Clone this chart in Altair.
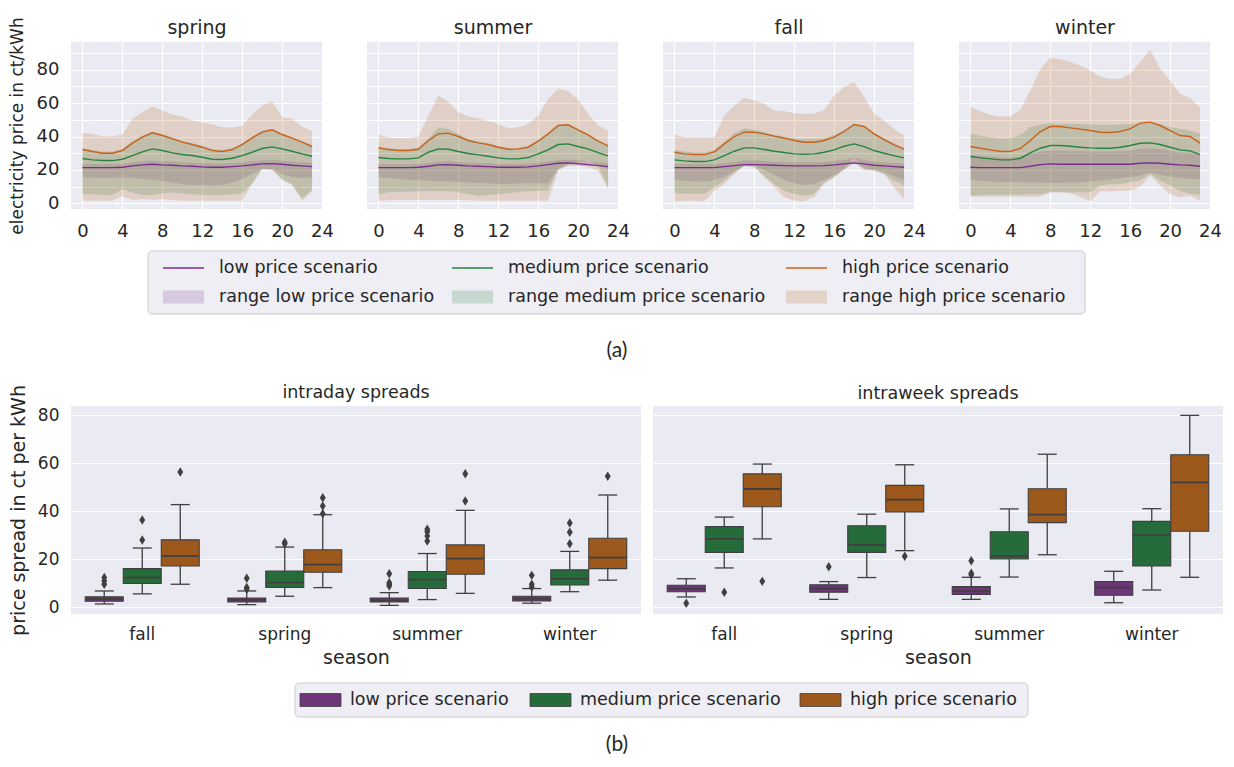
import altair as alt
import pandas as pd

# ----------------------------------------------------------------- data
HOURS = list(range(24))
TOP_SEASONS = ["spring", "summer", "fall", "winter"]
SCENARIOS = ["low price scenario", "medium price scenario", "high price scenario"]
RANGE_LABELS = ["range low price scenario", "range medium price scenario", "range high price scenario"]
HOUR_TICKS = [0, 4, 8, 12, 16, 20, 24]
PRICE_GRID = [0, 10, 20, 30, 40, 50, 60, 70, 80, 90]

SPRING_LOW = [21.4, 21.4, 21.4, 21.4, 21.6, 22.4, 23.0, 23.4, 23.0, 22.8, 22.4, 22.2, 21.8, 21.6, 21.6, 22.0, 22.4, 23.0, 23.6, 23.8, 23.4, 22.8, 22.4, 22.0]
SPRING_LOW_MIN = [15.6, 15.4, 15.2, 15.2, 15.6, 15.0, 14.5, 14.0, 13.4, 12.5, 11.6, 11.0, 10.8, 10.6, 11.0, 12.5, 14.5, 17.5, 20.6, 20.6, 17.5, 15.6, 15.2, 15.6]
SPRING_LOW_MAX = [23.5, 23.5, 23.5, 23.5, 23.7, 24.5, 25.2, 25.6, 25.2, 25.0, 24.6, 24.4, 24.0, 23.8, 23.8, 24.2, 24.6, 25.2, 25.8, 26.0, 25.6, 25.0, 24.6, 24.2]
SPRING_MED = [26.8, 26.0, 25.6, 25.6, 26.4, 28.6, 30.8, 32.6, 31.6, 30.2, 29.2, 28.6, 27.6, 26.4, 26.2, 27.0, 28.6, 30.6, 32.8, 33.8, 32.6, 31.2, 29.6, 28.2]
SPRING_MED_MIN = [5.6, 5.4, 5.0, 5.0, 8.5, 6.5, 5.0, 5.0, 6.0, 6.5, 6.0, 5.5, 5.0, 5.0, 5.0, 5.5, 6.0, 12.0, 20.5, 20.5, 14.0, 11.0, 3.0, 8.0]
SPRING_MED_MAX = [33.0, 32.0, 31.0, 31.0, 32.5, 37.0, 40.5, 43.0, 41.5, 39.5, 37.5, 36.0, 34.5, 32.5, 32.0, 33.0, 36.0, 40.0, 43.5, 44.5, 42.0, 39.5, 37.0, 35.0]
SPRING_HIGH = [32.2, 31.0, 30.0, 30.0, 31.6, 36.0, 39.6, 42.2, 40.6, 38.6, 36.6, 35.2, 33.6, 31.6, 31.0, 32.2, 35.2, 39.2, 42.6, 44.0, 41.2, 39.0, 36.6, 34.0]
SPRING_HIGH_MIN = [1.6, 1.6, 1.6, 1.6, 4.2, 2.0, 2.4, 2.0, 2.4, 2.0, 1.6, 1.6, 1.6, 1.6, 1.6, 1.6, 1.6, 11.6, 20.6, 19.6, 14.6, 11.6, 1.6, 7.2]
SPRING_HIGH_MAX = [42.2, 41.6, 40.2, 40.0, 41.2, 50.6, 54.6, 58.0, 55.6, 53.2, 52.0, 49.6, 48.4, 47.2, 45.6, 45.2, 46.6, 53.2, 58.6, 61.2, 51.6, 50.6, 46.0, 43.2]

SUMMER_LOW = [21.4, 21.4, 21.4, 21.4, 21.6, 22.2, 23.0, 23.2, 22.8, 22.4, 22.2, 22.0, 21.6, 21.6, 21.6, 21.8, 22.4, 23.2, 24.0, 24.2, 23.8, 23.2, 22.6, 22.0]
SUMMER_LOW_MIN = [15.6, 15.0, 14.5, 14.0, 13.8, 13.5, 13.2, 13.0, 12.8, 12.5, 12.2, 12.0, 11.6, 11.6, 11.8, 12.0, 12.0, 12.0, 20.6, 22.6, 22.6, 22.6, 22.6, 20.6]
SUMMER_LOW_MAX = [23.5, 23.5, 23.5, 23.5, 23.7, 24.3, 25.0, 25.2, 24.8, 24.4, 24.2, 24.0, 23.6, 23.6, 23.6, 23.8, 24.4, 25.2, 26.0, 26.2, 25.8, 25.2, 24.6, 24.0]
SUMMER_MED = [27.4, 26.8, 26.6, 26.6, 27.2, 30.6, 32.6, 32.4, 31.0, 29.8, 29.0, 28.2, 27.2, 26.6, 26.6, 27.4, 29.6, 32.0, 35.2, 35.6, 34.0, 32.6, 30.4, 28.4]
SUMMER_MED_MIN = [5.6, 6.6, 7.0, 7.0, 7.2, 7.2, 7.4, 7.2, 6.6, 5.6, 4.6, 5.0, 5.6, 6.0, 6.6, 7.2, 7.6, 7.6, 20.6, 23.6, 24.6, 25.5, 22.6, 9.6]
SUMMER_MED_MAX = [34.0, 33.0, 32.5, 32.5, 33.5, 39.0, 45.6, 44.5, 41.5, 38.5, 37.0, 36.0, 34.5, 33.0, 33.0, 34.5, 38.0, 42.0, 46.5, 47.5, 44.5, 41.5, 37.5, 35.0]
SUMMER_HIGH = [33.2, 32.2, 31.6, 31.6, 32.4, 37.6, 41.6, 42.0, 40.0, 37.6, 36.2, 35.2, 33.6, 32.4, 32.6, 33.6, 37.2, 41.6, 46.6, 47.0, 44.0, 41.0, 37.2, 34.4]
SUMMER_HIGH_MIN = [1.6, 1.8, 2.0, 2.0, 2.0, 2.0, 2.0, 2.0, 2.0, 1.8, 1.6, 1.6, 1.6, 1.6, 1.6, 1.6, 1.6, 1.6, 19.6, 22.6, 22.6, 21.6, 19.6, 8.6]
SUMMER_HIGH_MAX = [41.0, 39.6, 39.0, 39.0, 40.0, 52.6, 64.6, 60.6, 54.6, 52.0, 51.0, 49.2, 47.6, 44.8, 45.6, 47.6, 52.6, 62.6, 68.6, 67.2, 62.2, 53.6, 46.6, 43.6]

FALL_LOW = [21.4, 21.4, 21.4, 21.4, 21.4, 22.0, 22.6, 23.2, 23.2, 23.0, 22.8, 22.6, 22.4, 22.4, 22.4, 22.6, 23.0, 23.6, 24.2, 23.6, 22.8, 22.4, 22.0, 21.6]
FALL_LOW_MIN = [14.0, 13.5, 13.0, 13.0, 14.0, 16.0, 19.0, 22.0, 22.5, 20.0, 17.0, 14.0, 12.0, 11.0, 11.5, 14.0, 17.0, 20.0, 24.0, 21.0, 20.0, 19.0, 16.0, 14.0]
FALL_LOW_MAX = [23.5, 23.5, 23.5, 23.5, 23.5, 24.1, 24.8, 25.6, 25.8, 25.3, 25.0, 24.8, 24.6, 24.6, 24.6, 24.8, 25.3, 26.0, 27.5, 26.0, 25.0, 24.6, 24.2, 23.8]
FALL_MED = [26.0, 25.4, 25.0, 25.0, 26.0, 28.6, 31.2, 33.2, 33.2, 32.2, 31.2, 30.4, 29.6, 29.4, 29.6, 30.6, 32.0, 34.2, 35.6, 34.0, 31.6, 30.0, 28.6, 27.2]
FALL_MED_MIN = [6.0, 5.8, 5.8, 5.8, 9.6, 13.6, 18.6, 22.6, 21.6, 16.6, 11.6, 7.6, 5.6, 4.6, 5.6, 12.6, 15.6, 20.6, 27.6, 20.6, 19.6, 17.6, 13.6, 10.6]
FALL_MED_MAX = [32.0, 31.0, 30.5, 30.5, 32.0, 37.0, 42.0, 45.0, 44.0, 42.5, 41.0, 40.0, 39.0, 38.5, 38.5, 39.0, 41.0, 44.0, 47.5, 46.0, 42.0, 39.0, 36.0, 33.0]
FALL_HIGH = [30.6, 29.6, 29.2, 29.2, 30.8, 35.6, 40.0, 42.6, 42.6, 41.6, 40.2, 39.0, 37.6, 36.6, 36.6, 37.6, 39.6, 43.0, 47.2, 46.0, 41.6, 38.2, 35.0, 32.4]
FALL_HIGH_MIN = [1.2, 1.6, 1.6, 1.2, 7.6, 11.6, 17.6, 22.6, 21.6, 15.6, 9.6, 3.6, 1.6, 1.2, 3.6, 11.6, 15.6, 20.6, 24.6, 19.6, 19.6, 17.6, 9.6, 2.6]
FALL_HIGH_MAX = [41.2, 39.6, 39.6, 39.6, 39.6, 52.6, 58.6, 63.2, 61.6, 59.6, 55.6, 55.2, 54.0, 53.6, 53.6, 56.0, 64.6, 69.6, 72.6, 63.6, 53.6, 49.6, 44.6, 40.6]

WINTER_LOW = [21.6, 21.4, 21.4, 21.4, 21.4, 21.4, 22.2, 23.2, 23.6, 23.4, 23.4, 23.4, 23.4, 23.4, 23.4, 23.4, 23.4, 24.0, 24.2, 24.0, 23.4, 23.0, 22.8, 22.2]
WINTER_LOW_MIN = [14.0, 13.5, 13.0, 12.8, 12.6, 12.6, 12.5, 12.4, 12.2, 12.2, 12.4, 12.6, 13.0, 13.6, 14.2, 15.0, 15.6, 16.6, 18.6, 17.0, 16.0, 15.2, 14.6, 14.6]
WINTER_LOW_MAX = [29.0, 28.5, 28.0, 27.5, 27.5, 28.0, 29.5, 31.0, 31.6, 31.6, 31.4, 31.2, 31.0, 31.0, 31.0, 31.2, 31.6, 32.5, 33.0, 32.5, 31.5, 30.5, 30.0, 29.0]
WINTER_MED = [28.0, 27.2, 26.6, 26.0, 26.0, 27.0, 30.2, 33.0, 34.6, 34.6, 34.2, 33.6, 33.2, 33.0, 33.0, 33.6, 34.6, 36.0, 36.2, 35.2, 33.6, 32.0, 31.4, 29.2]
WINTER_MED_MIN = [4.6, 5.2, 5.2, 5.2, 5.2, 5.2, 5.6, 5.6, 6.6, 6.6, 6.6, 6.6, 6.6, 10.6, 11.6, 11.6, 12.6, 13.6, 17.6, 13.6, 10.6, 7.6, 5.6, 5.2]
WINTER_MED_MAX = [41.6, 40.5, 39.5, 38.6, 39.0, 41.0, 45.6, 47.2, 48.0, 47.5, 47.5, 47.5, 47.2, 47.0, 47.0, 47.2, 47.5, 48.0, 48.6, 47.5, 45.6, 44.6, 43.6, 41.6]
WINTER_HIGH = [34.0, 33.0, 32.0, 31.0, 31.2, 32.8, 37.6, 43.0, 46.0, 46.0, 45.2, 44.4, 43.6, 42.6, 42.4, 43.0, 44.6, 48.0, 48.6, 46.6, 43.6, 40.6, 40.0, 36.0]
WINTER_HIGH_MIN = [4.0, 4.0, 4.0, 4.0, 4.0, 4.0, 4.0, 4.0, 6.6, 6.6, 6.0, 4.0, 1.2, 7.2, 7.2, 7.6, 7.6, 10.0, 16.6, 10.6, 5.6, 3.6, 4.6, 1.6]
WINTER_HIGH_MAX = [58.0, 55.2, 53.0, 52.0, 52.2, 56.0, 67.6, 80.6, 87.2, 86.2, 84.6, 82.6, 79.6, 76.0, 74.4, 74.6, 77.6, 84.6, 92.0, 80.6, 73.6, 65.6, 63.0, 57.6]

BOX_SEASONS = ["fall", "spring", "summer", "winter"]
BOX_TITLES = ["intraday spreads", "intraweek spreads"]
SUB_LABELS = ["(a)", "(b)"]

# order: fall L/M/H, spring L/M/H, summer L/M/H, winter L/M/H
INTRADAY_Q1 = [2.5, 9.9, 17.2, 2.2, 8.3, 14.6, 2.2, 7.8, 13.8, 2.6, 9.3, 16.1]
INTRADAY_MED = [3.5, 12.4, 21.3, 3.1, 10.3, 17.8, 2.9, 11.5, 20.3, 3.6, 11.8, 20.7]
INTRADAY_Q3 = [4.4, 16.1, 28.1, 3.9, 15.1, 24.0, 3.9, 14.9, 26.0, 4.6, 15.6, 28.8]
INTRADAY_WLO = [1.4, 5.6, 9.6, 1.1, 4.6, 8.2, 0.8, 3.2, 5.8, 1.7, 6.5, 11.3]
INTRADAY_WHI = [6.8, 24.7, 42.8, 6.8, 25.1, 38.6, 6.1, 22.4, 40.4, 7.8, 23.3, 46.8]
INTRADAY_OUT = [[9.6, 11.0, 12.4], [28.0, 36.4], [56.4],
                [7.5, 8.2, 12.1], [26.5, 27.1], [39.0, 42.2, 45.7],
                [8.9, 9.6, 10.2, 14.0], [27.6, 29.7, 31.5, 32.5], [44.3, 55.7],
                [8.5, 9.6, 13.3], [26.5, 31.3, 35.1], [54.6]]

INTRAWEEK_Q1 = [6.5, 22.9, 41.9, 6.3, 22.9, 39.7, 5.4, 20.1, 35.3, 5.0, 17.2, 31.7]
INTRAWEEK_MED = [7.8, 28.5, 49.3, 7.8, 26.0, 44.9, 6.7, 21.3, 38.6, 8.2, 30.1, 52.1]
INTRAWEEK_Q3 = [9.2, 33.6, 55.6, 9.4, 34.0, 50.8, 8.6, 31.5, 49.4, 10.7, 35.8, 63.6]
INTRAWEEK_WLO = [4.3, 16.4, 28.5, 3.3, 12.4, 23.6, 3.3, 12.6, 21.9, 1.9, 7.2, 12.5]
INTRAWEEK_WHI = [11.9, 37.6, 59.7, 10.7, 38.8, 59.4, 12.5, 41.0, 63.8, 15.0, 41.1, 80.0]
INTRAWEEK_OUT = [[1.7], [6.3], [10.8],
                 [16.9], [], [21.3],
                 [13.6, 14.2, 19.4], [], [],
                 [], [], []]

# ----------------------------------------------------------------- styles
FONT = "DejaVu Sans"
TXT = "#262626"
BG = "#EAEAF2"
LINE_COLORS = ["#7a2d8c", "#24843f", "#c8621a"]
BAND_COLORS = ["#762a83", "#1b7837", "#b35806"]
BOX_COLORS = ["#6e3578", "#266c3b", "#9d581c"]
EDGE = "#3f3f3f"
BAND_OPACITY = 0.18
DIAMOND = "M0,-1L0.62,0L0,1L-0.62,0Z"

TOP_W, TOP_H, TOP_GAP = 252, 167, 44
BOT_W, BOT_H, BOT_GAP = 570, 208, 12

# ----------------------------------------------------------------- tables
SERIES = {
    "spring": [(SPRING_LOW, SPRING_LOW_MIN, SPRING_LOW_MAX), (SPRING_MED, SPRING_MED_MIN, SPRING_MED_MAX), (SPRING_HIGH, SPRING_HIGH_MIN, SPRING_HIGH_MAX)],
    "summer": [(SUMMER_LOW, SUMMER_LOW_MIN, SUMMER_LOW_MAX), (SUMMER_MED, SUMMER_MED_MIN, SUMMER_MED_MAX), (SUMMER_HIGH, SUMMER_HIGH_MIN, SUMMER_HIGH_MAX)],
    "fall": [(FALL_LOW, FALL_LOW_MIN, FALL_LOW_MAX), (FALL_MED, FALL_MED_MIN, FALL_MED_MAX), (FALL_HIGH, FALL_HIGH_MIN, FALL_HIGH_MAX)],
    "winter": [(WINTER_LOW, WINTER_LOW_MIN, WINTER_LOW_MAX), (WINTER_MED, WINTER_MED_MIN, WINTER_MED_MAX), (WINTER_HIGH, WINTER_HIGH_MIN, WINTER_HIGH_MAX)],
}

rows = []
for season in TOP_SEASONS:
    for k, (mean, lo, hi) in enumerate(SERIES[season]):
        for h in HOURS:
            rows.append(dict(season=season, scenario=SCENARIOS[k], k=k, hour=h,
                             mean=mean[h], lo=lo[h], hi=hi[h],
                             color=LINE_COLORS[k], band=BAND_COLORS[k]))
top_df = pd.DataFrame(rows)


def box_tables(q1, med, q3, wlo, whi, outs):
    st, ot = [], []
    i = 0
    for s in BOX_SEASONS:
        for k, scen in enumerate(SCENARIOS):
            st.append(dict(season=s, scenario=scen, q1=q1[i], med=med[i], q3=q3[i],
                           wlo=wlo[i], whi=whi[i], fill=BOX_COLORS[k]))
            for v in outs[i]:
                ot.append(dict(season=s, scenario=scen, value=v))
            i += 1
    return pd.DataFrame(st), pd.DataFrame(ot)


intraday_stats, intraday_out = box_tables(INTRADAY_Q1, INTRADAY_MED, INTRADAY_Q3, INTRADAY_WLO, INTRADAY_WHI, INTRADAY_OUT)
intraweek_stats, intraweek_out = box_tables(INTRAWEEK_Q1, INTRAWEEK_MED, INTRAWEEK_Q3, INTRAWEEK_WLO, INTRAWEEK_WHI, INTRAWEEK_OUT)

# ----------------------------------------------------------------- top row


def top_panel(season, first):
    df = top_df[top_df.season == season]
    xs = alt.Scale(domain=[-1.15, 24.1], nice=False, zero=False)
    xa = alt.Axis(values=HOUR_TICKS, title="", labelFontSize=18, labelPadding=13,
                  labelFlush=False, grid=True)
    ys = alt.Scale(domain=[-3.4, 96.6], nice=False, zero=False)
    if first:
        ya = alt.Axis(values=PRICE_GRID, labelExpr="datum.value % 20 == 0 ? datum.label : ''",
                      title="electricity price in ct/kWh", titleFontSize=17, labelFontSize=18,
                      labelPadding=12, titlePadding=10, grid=True)
        t_off = -21
    else:
        ya = alt.Axis(values=PRICE_GRID, labels=False, title="", grid=True)
        t_off = 4
    band = alt.Chart(df).mark_area(opacity=BAND_OPACITY).encode(
        x=alt.X("hour:Q", scale=xs, axis=xa),
        y=alt.Y("lo:Q", scale=ys, axis=ya),
        y2="hi:Q",
        fill=alt.Fill("band:N", scale=None),
        detail="k:O",
    )
    line = alt.Chart(df).mark_line(strokeWidth=1.4).encode(
        x=alt.X("hour:Q", scale=xs, axis=xa),
        y=alt.Y("mean:Q", scale=ys, axis=ya),
        stroke=alt.Stroke("color:N", scale=None),
        detail="k:O",
    )
    return alt.layer(band, line).properties(
        width=TOP_W, height=TOP_H,
        title=alt.TitleParams(season, fontSize=19, offset=t_off),
        view=alt.ViewBackground(fill=BG, strokeWidth=0),
    )


row1 = alt.hconcat(*[top_panel(s, i == 0) for i, s in enumerate(TOP_SEASONS)],
                   spacing=TOP_GAP, bounds="flush")

# ----------------------------------------------------------------- bottom row


def box_panel(stats, outs, title, first):
    xs = alt.Scale(domain=BOX_SEASONS, paddingInner=0.2, paddingOuter=0.1)
    xa = alt.Axis(title="season", labelAngle=0, grid=False, labelFontSize=17,
                  titleFontSize=19, labelPadding=12, titlePadding=6)
    ys = alt.Scale(domain=[-2.8, 83.9], nice=False, zero=False)
    if first:
        ya = alt.Axis(values=[0, 20, 40, 60, 80], title="price spread in ct per kWh",
                      titleFontSize=19, labelFontSize=17, labelPadding=12, titlePadding=9, grid=True)
        t_off = -17
    else:
        ya = alt.Axis(values=[0, 20, 40, 60, 80], labels=False, title="", grid=True)
        t_off = 4
    X = alt.X("season:N", scale=xs, axis=xa)
    XO = alt.XOffset("scenario:N", scale=alt.Scale(domain=SCENARIOS, paddingInner=0, paddingOuter=0))

    def Y(f):
        return alt.Y(f, scale=ys, axis=ya)

    base = alt.Chart(stats)
    w_lo = base.mark_rule(color=EDGE, strokeWidth=1.3).encode(x=X, xOffset=XO, y=Y("wlo:Q"), y2="q1:Q")
    w_hi = base.mark_rule(color=EDGE, strokeWidth=1.3).encode(x=X, xOffset=XO, y=Y("q3:Q"), y2="whi:Q")
    box = base.mark_bar(stroke=EDGE, strokeWidth=1.1).encode(
        x=X, xOffset=XO, y=Y("q1:Q"), y2="q3:Q", fill=alt.Fill("fill:N", scale=None))
    med = base.mark_tick(color=EDGE, size=37, thickness=1.8, opacity=1).encode(x=X, xOffset=XO, y=Y("med:Q"))
    cap_lo = base.mark_tick(color=EDGE, size=19, thickness=1.3, opacity=1).encode(x=X, xOffset=XO, y=Y("wlo:Q"))
    cap_hi = base.mark_tick(color=EDGE, size=19, thickness=1.3, opacity=1).encode(x=X, xOffset=XO, y=Y("whi:Q"))
    layers = [w_lo, w_hi, box, med, cap_lo, cap_hi]
    if len(outs):
        pts = alt.Chart(outs).mark_point(shape=DIAMOND, filled=True, color=EDGE, size=90, opacity=1).encode(
            x=X, xOffset=XO, y=Y("value:Q"))
        layers.append(pts)
    return alt.layer(*layers).properties(
        width=BOT_W, height=BOT_H,
        title=alt.TitleParams(title, fontSize=17.5, offset=t_off),
        view=alt.ViewBackground(fill=BG, strokeWidth=0),
    )


row2 = alt.hconcat(box_panel(intraday_stats, intraday_out, BOX_TITLES[0], True),
                   box_panel(intraweek_stats, intraweek_out, BOX_TITLES[1], False),
                   spacing=BOT_GAP, bounds="flush")

# ----------------------------------------------------------------- legends (pixel layout relative to plot origin)
X0 = 71
LEG_W = 4 * TOP_W + 3 * TOP_GAP


def legend_chart(height, box, rows_lines, rows_patches, texts, sub):
    xs = alt.Scale(domain=[0, LEG_W], nice=False, zero=False)
    ys = alt.Scale(domain=[height, 0], nice=False, zero=False)
    X = lambda f: alt.X(f, scale=xs, axis=None)
    Y = lambda f: alt.Y(f, scale=ys, axis=None)
    layers = [alt.Chart(pd.DataFrame([box])).mark_rect(
        fill="#eeeef4", stroke="#cccccc", strokeWidth=1, cornerRadius=4).encode(
        x=X("x:Q"), x2="x2:Q", y=Y("y:Q"), y2="y2:Q")]
    if rows_lines is not None:
        layers.append(alt.Chart(rows_lines).mark_rule(strokeWidth=1.5).encode(
            x=X("x:Q"), x2="x2:Q", y=Y("y:Q"), stroke=alt.Stroke("color:N", scale=None)))
    if rows_patches is not None:
        layers.append(alt.Chart(rows_patches).mark_rect(strokeWidth=0.8).encode(
            x=X("x:Q"), x2="x2:Q", y=Y("y:Q"), y2="y2:Q",
            fill=alt.Fill("color:N", scale=None), opacity=alt.Opacity("op:Q", scale=None),
            stroke=alt.Stroke("edge:N", scale=None)))
    layers.append(alt.Chart(texts).mark_text(align="left", baseline="middle", fontSize=17.5,
                                             color=TXT, font=FONT).encode(
        x=X("x:Q"), y=Y("y:Q"), text="label:N"))
    layers.append(alt.Chart(sub).mark_text(align="center", baseline="middle", fontSize=21,
                                           color=TXT, font="Lato").encode(
        x=X("x:Q"), y=Y("y:Q"), text="label:N"))
    return alt.layer(*layers).properties(width=LEG_W, height=height,
                                         view=alt.ViewBackground(fill="#ffffff", strokeWidth=0))


# legend (a): page coordinates, chart top at page y 239
L1_TOP = 239
L1_COLS = [163, 452, 786]
L1_ROWS = [267, 296]
L1_SYM = 41
L1_TXT = 56
l1_lines = pd.DataFrame([dict(x=c - X0, x2=c - X0 + L1_SYM, y=L1_ROWS[0] - L1_TOP, color=LINE_COLORS[k])
                         for k, c in enumerate(L1_COLS)])
l1_patches = pd.DataFrame([dict(x=c - X0, x2=c - X0 + L1_SYM, y=L1_ROWS[1] - L1_TOP - 6.5,
                                y2=L1_ROWS[1] - L1_TOP + 6.5,
                                color=BAND_COLORS[k], op=BAND_OPACITY, edge="transparent")
                           for k, c in enumerate(L1_COLS)])
l1_texts = pd.DataFrame([dict(x=c - X0 + L1_TXT, y=L1_ROWS[0] - L1_TOP, label=SCENARIOS[k]) for k, c in enumerate(L1_COLS)] +
                        [dict(x=c - X0 + L1_TXT, y=L1_ROWS[1] - L1_TOP, label=RANGE_LABELS[k]) for k, c in enumerate(L1_COLS)])
l1_sub = pd.DataFrame([dict(x=617 - X0, y=350 - L1_TOP, label=SUB_LABELS[0])])
leg1 = legend_chart(144, dict(x=148 - X0, x2=1085 - X0, y=250 - L1_TOP, y2=313 - L1_TOP),
                    l1_lines, l1_patches, l1_texts, l1_sub)

# legend (b): chart top at page y 667
L2_TOP = 667
L2_COLS = [300, 530, 800]
L2_ROW = 700
l2_patches = pd.DataFrame([dict(x=c - X0, x2=c - X0 + 41, y=L2_ROW - L2_TOP - 6.5, y2=L2_ROW - L2_TOP + 6.5,
                                color=BOX_COLORS[k], op=1, edge=EDGE) for k, c in enumerate(L2_COLS)])
l2_texts = pd.DataFrame([dict(x=c - X0 + 50, y=L2_ROW - L2_TOP, label=SCENARIOS[k]) for k, c in enumerate(L2_COLS)])
l2_sub = pd.DataFrame([dict(x=617 - X0, y=745 - L2_TOP, label=SUB_LABELS[1])])
leg2 = legend_chart(88, dict(x=295 - X0, x2=1028 - X0, y=683 - L2_TOP, y2=717 - L2_TOP),
                    None, l2_patches, l2_texts, l2_sub)

# ----------------------------------------------------------------- assemble
chart = alt.vconcat(row1, leg1, row2, leg2, spacing=0).properties(
    padding={"left": 0, "top": 8, "right": 0, "bottom": 0}
).configure(font=FONT).configure_view(strokeWidth=0).configure_axis(
    labelColor=TXT, titleColor=TXT, gridColor="white", gridWidth=1.2, gridOpacity=1,
    domain=False, ticks=False, titleFontWeight="normal", labelFont=FONT, titleFont=FONT
).configure_title(color=TXT, fontWeight="normal", font=FONT, anchor="middle")

chart.save("out.html", embed_options={"renderer": "svg", "actions": False})
